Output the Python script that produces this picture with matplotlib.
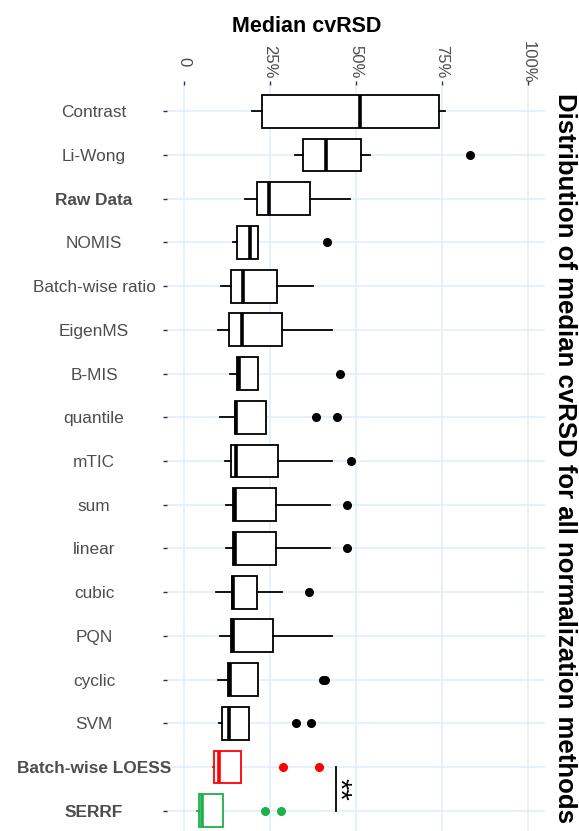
import matplotlib

matplotlib.use("Agg")
import matplotlib.pyplot as plt

plt.rcParams["font.family"] = ["Liberation Sans", "DejaVu Sans"]

# values are median cvRSD in percent
methods = [
    "Contrast", "Li-Wong", "Raw Data", "NOMIS", "Batch-wise ratio", "EigenMS",
    "B-MIS", "quantile", "mTIC", "sum", "linear", "cubic", "PQN", "cyclic",
    "SVM", "Batch-wise LOESS", "SERRF",
]
whislo = [19.8, 32.2, 17.7, 14.1, 10.6, 9.8, 13.4, 10.4, 11.9, 12.1, 12.1, 9.3, 10.4, 9.7, 10.2, 8.3, 3.7]
q1 = [22.7, 34.5, 21.1, 15.3, 13.6, 13.0, 15.5, 14.8, 13.6, 14.2, 14.2, 13.8, 13.6, 12.7, 11.1, 8.8, 4.3]
med = [51.1, 41.4, 24.7, 19.1, 17.0, 16.8, 15.9, 15.2, 15.1, 14.9, 14.9, 14.3, 14.3, 13.3, 13.0, 10.2, 5.2]
q3 = [74.2, 51.6, 36.6, 21.5, 27.1, 28.6, 21.4, 23.7, 27.4, 26.6, 26.6, 21.3, 25.9, 21.6, 19.0, 16.4, 11.4]
whishi = [76.0, 54.0, 48.3, 21.5, 37.5, 42.9, 21.4, 23.7, 42.9, 42.4, 42.4, 28.4, 43.0, 21.6, 19.0, 16.4, 11.4]
fliers = [
    [], [83.1], [], [41.5], [], [], [45.2], [38.3, 44.5], [48.6], [47.4],
    [47.4], [36.2], [], [40.4, 41.0], [32.4, 36.8], [28.8, 39.2], [23.6, 28.1],
]

bold_methods = {"Raw Data", "Batch-wise LOESS", "SERRF"}
method_colors = {"Batch-wise LOESS": "#ff0000", "SERRF": "#1db04c"}

x_ticks = [0, 25, 50, 75, 100]
x_tick_labels = ["0", "25%", "50%", "75%", "100%"]

sig_pair = ("Batch-wise LOESS", "SERRF")
sig_x = 44.1
sig_label = "**"

title = "Distribution of median cvRSD for all normalization methods"
x_label = "Median cvRSD"

W, H = 579, 831
fig = plt.figure(figsize=(W / 100, H / 100), dpi=100)
ax = fig.add_axes([167 / W, 1 - 837 / H, 378 / W, 752 / H])

for i, name in enumerate(methods):
    c = method_colors.get(name, "black")
    stats = dict(
        whislo=whislo[i], q1=q1[i], med=med[i], q3=q3[i], whishi=whishi[i],
        fliers=fliers[i], label=name,
    )
    ax.bxp(
        [stats],
        positions=[i],
        widths=0.75,
        orientation="horizontal",
        showcaps=False,
        patch_artist=True,
        boxprops=dict(facecolor="white", edgecolor=c, linewidth=1.3),
        medianprops=dict(color=c, linewidth=2.6, solid_capstyle="butt"),
        whiskerprops=dict(color=c, linewidth=1.3),
        flierprops=dict(marker="o", markerfacecolor=c, markeredgecolor=c,
                        markersize=5.5, linestyle="none"),
        zorder=3,
    )

# significance bracket between LOESS and SERRF
ya, yb = methods.index(sig_pair[0]), methods.index(sig_pair[1])
ax.plot([sig_x, sig_x], [ya, yb], color="black", linewidth=1.3, zorder=3)
ax.text(sig_x + 1.0, (ya + yb) / 2, sig_label, rotation=-90,
        ha="center", va="center", fontsize=21, color="black")

ax.set_xlim(-5, 105)
ax.set_ylim(len(methods) - 1 + 0.6, -0.6)

ax.xaxis.tick_top()
ax.set_xticks(x_ticks)
ax.set_xticklabels(x_tick_labels)
ax.set_yticks(range(len(methods)))
ax.set_yticklabels(methods)

# y labels are centred on a common column, as in the source figure
ax.tick_params(axis="x", top=True, bottom=False, length=3, width=1,
               color="#333333", labelsize=12, labelcolor="#4d4d4d", pad=13.5)
ax.tick_params(axis="y", length=3, width=1, color="#333333",
               labelsize=12.4, labelcolor="#4d4d4d", pad=49.5)
for lab in ax.get_xticklabels():
    lab.set_rotation(-90)
    lab.set_va("center")
    lab.set_ha("center")
for lab in ax.get_yticklabels():
    lab.set_ha("center")
    if lab.get_text() in bold_methods:
        lab.set_fontweight("bold")

ax.grid(True, color="#e2effb", linewidth=1.2)
ax.set_axisbelow(True)
for s in ax.spines.values():
    s.set_visible(False)

fig.text(307 / W, 1 - 27 / H, x_label, ha="center", va="center",
         fontsize=15.5, fontweight="bold")
fig.text(565 / W, 1 - 93 / H, title, rotation=-90, rotation_mode="anchor",
         ha="left", va="center", fontsize=18.5, fontweight="bold")

fig.savefig("out.png", dpi=100)
